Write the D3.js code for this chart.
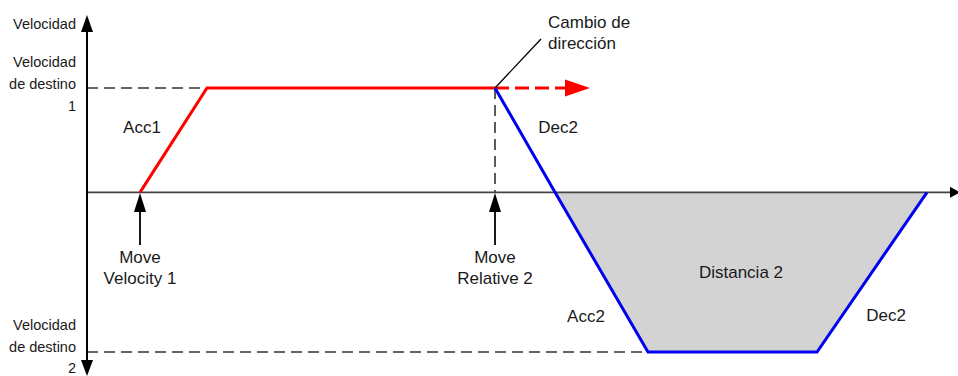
<!DOCTYPE html>
<html>
<head>
<meta charset="utf-8">
<script src="https://cdn.jsdelivr.net/npm/d3@7"></script>
<style>
  html, body { margin: 0; padding: 0; background: #fff; }
  svg { display: block; font-family: "Liberation Sans", Arial, sans-serif; }
</style>
</head>
<body>
<svg id="chart" width="958" height="376"></svg>
<script>
// ---- data (time units, velocity units) ----
const move1Profile = [ {t: 53, v: 0}, {t: 120, v: 100}, {t: 408, v: 100} ];
const move1Continuation = [ {t: 408, v: 100}, {t: 503, v: 100} ];
const move2Profile = [ {t: 408, v: 100}, {t: 468, v: 0}, {t: 561, v: -153}, {t: 730, v: -153}, {t: 840, v: 0} ];
const targetVelocities = [ {name: "1", v: 100, tEnd: 120}, {name: "2", v: -153, tEnd: 561} ];
const commandTimes = [ {t: 53, lines: ["Move", "Velocity 1"]}, {t: 408, lines: ["Move", "Relative 2"]} ];
const rampLabels = [
  {text: "Acc1", t: 55, v: 62},
  {text: "Dec2", t: 471, v: 62},
  {text: "Acc2", t: 499, v: -119},
  {text: "Dec2", t: 799, v: -118},
  {text: "Distancia 2", t: 654, v: -77}
];
const axisLabels = { y: "Velocidad", target1: ["Velocidad", "de destino", "1"], target2: ["Velocidad", "de destino", "2"], change: ["Cambio de", "dirección"] };

// ---- scales ----
const svg = d3.select("#chart");
const x = d3.scaleLinear().domain([0, 871]).range([87, 958]);
const y = d3.scaleLinear().domain([-153, 100]).range([352, 88]);

const ink = "#1a1a1a";

// gray area (distance 2)
const below = move2Profile.filter(d => d.v <= 0);
svg.append("path")
  .datum(below)
  .attr("d", d3.area().x(d => x(d.t)).y0(y(0)).y1(d => y(d.v)))
  .attr("fill", "#d3d3d3");

// target velocity dashed guides
targetVelocities.forEach(tv => {
  svg.append("line")
    .attr("x1", x(0)).attr("x2", x(tv.tEnd))
    .attr("y1", y(tv.v)).attr("y2", y(tv.v))
    .attr("stroke", "#333").attr("stroke-width", 1.6)
    .attr("stroke-dasharray", "11,6");
});

// vertical dashed at change of direction
svg.append("line")
  .attr("x1", x(408)).attr("x2", x(408))
  .attr("y1", y(100)).attr("y2", y(0))
  .attr("stroke", "#333").attr("stroke-width", 1.6)
  .attr("stroke-dasharray", "11,6");

// zero (time) axis
svg.append("line")
  .attr("x1", x(0)).attr("x2", 950)
  .attr("y1", y(0)).attr("y2", y(0))
  .attr("stroke", "#444").attr("stroke-width", 1.6);
svg.append("path")
  .attr("d", `M950,${y(0)-5.5}L960,${y(0)}L950,${y(0)+5.5}Z`)
  .attr("fill", "#000");

// velocity axis
svg.append("line")
  .attr("x1", x(0)).attr("x2", x(0))
  .attr("y1", 30).attr("y2", 362)
  .attr("stroke", "#000").attr("stroke-width", 2);
svg.append("path").attr("d", `M${x(0)-6},32L${x(0)},15L${x(0)+6},32Z`).attr("fill", "#000");
svg.append("path").attr("d", `M${x(0)-6},360L${x(0)},376L${x(0)+6},360Z`).attr("fill", "#000");

const line = d3.line().x(d => x(d.t)).y(d => y(d.v));

// move 1 (red)
svg.append("path").datum(move1Profile).attr("d", line)
  .attr("fill", "none").attr("stroke", "#ff0000").attr("stroke-width", 3)
  .attr("stroke-linejoin", "miter");
const contEnd = move1Continuation[move1Continuation.length - 1];
svg.append("path").datum([move1Continuation[0], {t: contEnd.t - 22, v: contEnd.v}]).attr("d", line)
  .attr("fill", "none").attr("stroke", "#ff0000").attr("stroke-width", 3)
  .attr("stroke-dasharray", "14,6");
svg.append("path")
  .attr("d", `M${x(contEnd.t) - 25},${y(contEnd.v) - 8.5}L${x(contEnd.t)},${y(contEnd.v)}L${x(contEnd.t) - 25},${y(contEnd.v) + 8.5}Z`)
  .attr("fill", "#ff0000");

// move 2 (blue)
svg.append("path").datum(move2Profile).attr("d", line)
  .attr("fill", "none").attr("stroke", "#0000ee").attr("stroke-width", 3)
  .attr("stroke-linejoin", "miter");

// command arrows + labels
commandTimes.forEach(c => {
  const cx = x(c.t);
  svg.append("line").attr("x1", cx).attr("x2", cx).attr("y1", 210).attr("y2", 245)
    .attr("stroke", "#000").attr("stroke-width", 1.8);
  svg.append("path").attr("d", `M${cx-6},212L${cx},193L${cx+6},212Z`).attr("fill", "#000");
  c.lines.forEach((ln, i) => {
    svg.append("text").attr("x", cx).attr("y", 257 + i * 21.5)
      .attr("text-anchor", "middle").attr("dominant-baseline", "central")
      .attr("font-size", 17).attr("fill", ink).text(ln);
  });
});

// ramp labels
rampLabels.forEach(r => {
  svg.append("text").attr("x", x(r.t)).attr("y", y(r.v))
    .attr("text-anchor", "middle").attr("dominant-baseline", "central")
    .attr("font-size", 17).attr("fill", ink).text(r.text);
});

// change of direction callout
svg.append("line").attr("x1", x(408)).attr("y1", y(100)).attr("x2", 541).attr("y2", 39)
  .attr("stroke", "#000").attr("stroke-width", 1.3);
axisLabels.change.forEach((ln, i) => {
  svg.append("text").attr("x", 548).attr("y", 22 + i * 21.5)
    .attr("dominant-baseline", "central")
    .attr("font-size", 17).attr("fill", ink).text(ln);
});

// axis labels (left)
svg.append("text").attr("x", 76).attr("y", 24).attr("text-anchor", "end")
  .attr("dominant-baseline", "central").attr("font-size", 14.5).attr("fill", ink).text(axisLabels.y);
axisLabels.target1.forEach((ln, i) => {
  svg.append("text").attr("x", 76).attr("y", 62 + i * 21.8).attr("text-anchor", "end")
    .attr("dominant-baseline", "central").attr("font-size", 14.5).attr("fill", ink).text(ln);
});
axisLabels.target2.forEach((ln, i) => {
  svg.append("text").attr("x", 76).attr("y", 325 + i * 21.5).attr("text-anchor", "end")
    .attr("dominant-baseline", "central").attr("font-size", 14.5).attr("fill", ink).text(ln);
});
</script>
</body>
</html>
